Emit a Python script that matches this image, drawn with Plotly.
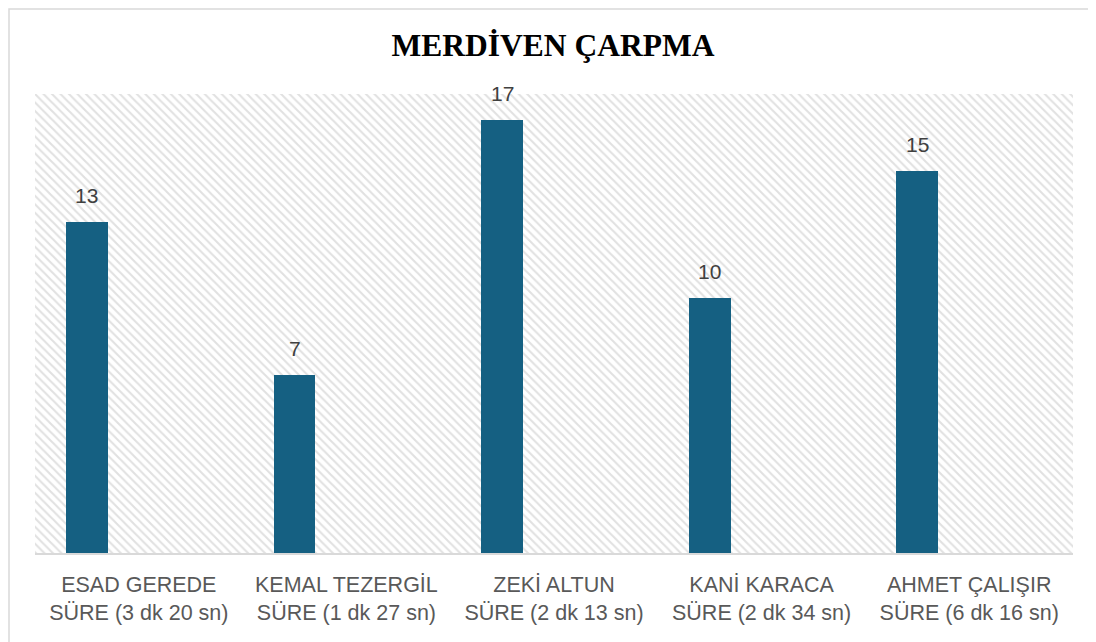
import plotly.graph_objects as go

# ---- data ----
categories = [
    "ESAD GEREDE<br>SÜRE (3 dk 20 sn)",
    "KEMAL TEZERGİL<br>SÜRE (1 dk 27 sn)",
    "ZEKİ ALTUN<br>SÜRE (2 dk 13 sn)",
    "KANİ KARACA<br>SÜRE (2 dk 34 sn)",
    "AHMET ÇALIŞIR<br>SÜRE (6 dk 16 sn)",
]
values = [13, 7, 17, 10, 15]
title_text = "MERDİVEN ÇARPMA"

# ---- style / layout constants ----
# page body has an 8px margin, so the figure is drawn 8px in from the window edge
W, H = 1088, 634
ML, MR, MT, MB = 27, 23, 86, 89
BAR_COLOR = "#156082"
BAR_OFFSET = -0.351
BAR_WIDTH = 0.202
Y_MAX = 18
TEXT_FONT = "Liberation Sans, Arial, sans-serif"

plot_w = W - ML - MR
plot_h = H - MT - MB
slot_px = plot_w / len(categories)

fig = go.Figure()

# hatched background for plot area (decoration)
fig.add_trace(go.Bar(
    x=[0.5], y=[1], width=[1],
    marker=dict(color="white", line=dict(width=0),
                pattern=dict(shape="\\", fgcolor="#c4c4c4", bgcolor="white",
                             size=6, solidity=0.35)),
    hoverinfo="skip", showlegend=False, xaxis="x", yaxis="y",
))

# data bars
fig.add_trace(go.Bar(
    x=categories, y=values,
    offset=BAR_OFFSET, width=BAR_WIDTH,
    marker=dict(color=BAR_COLOR, line=dict(width=0)),
    showlegend=False, xaxis="x2", yaxis="y2",
))

annotations = []
for c, v in zip(categories, values):
    annotations.append(dict(
        x=c, y=v, xref="x2", yref="y2",
        text=str(v), showarrow=False,
        xshift=(BAR_OFFSET + BAR_WIDTH / 2) * slot_px,
        yshift=13, yanchor="bottom",
        font=dict(family=TEXT_FONT, size=21, color="#404040"),
    ))

fig.update_layout(
    width=W, height=H,
    margin=dict(l=ML, r=MR, t=MT, b=MB),
    paper_bgcolor="white", plot_bgcolor="white",
    title=dict(text=f"<b>{title_text}</b>", x=545 / W, xanchor="center",
               y=1 - 37 / H, yanchor="middle", yref="container",
               font=dict(family="Liberation Serif, Times New Roman, serif", size=31.5, color="black")),
    xaxis=dict(range=[0, 1], visible=False, fixedrange=True),
    yaxis=dict(range=[0, 1], visible=False, fixedrange=True),
    xaxis2=dict(overlaying="x", anchor="y2", type="category",
                showline=True, linecolor="#d9d9d9", linewidth=1.5,
                ticks="", showgrid=False, zeroline=False, ticklabelstandoff=11,
                tickfont=dict(family=TEXT_FONT, size=21.5, color="#595959")),
    yaxis2=dict(overlaying="y", range=[0, Y_MAX], visible=False, showgrid=False),
    bargap=0,
    annotations=annotations,
    shapes=[dict(type="rect", xref="paper", yref="paper",
                 x0=-(ML - 1) / plot_w, x1=1.2,
                 y0=-0.5, y1=1 + (MT - 1) / plot_h,
                 line=dict(color="#d9d9d9", width=1.5), fillcolor="rgba(0,0,0,0)",
                 layer="below")],
)

fig.write_html("out.html")
